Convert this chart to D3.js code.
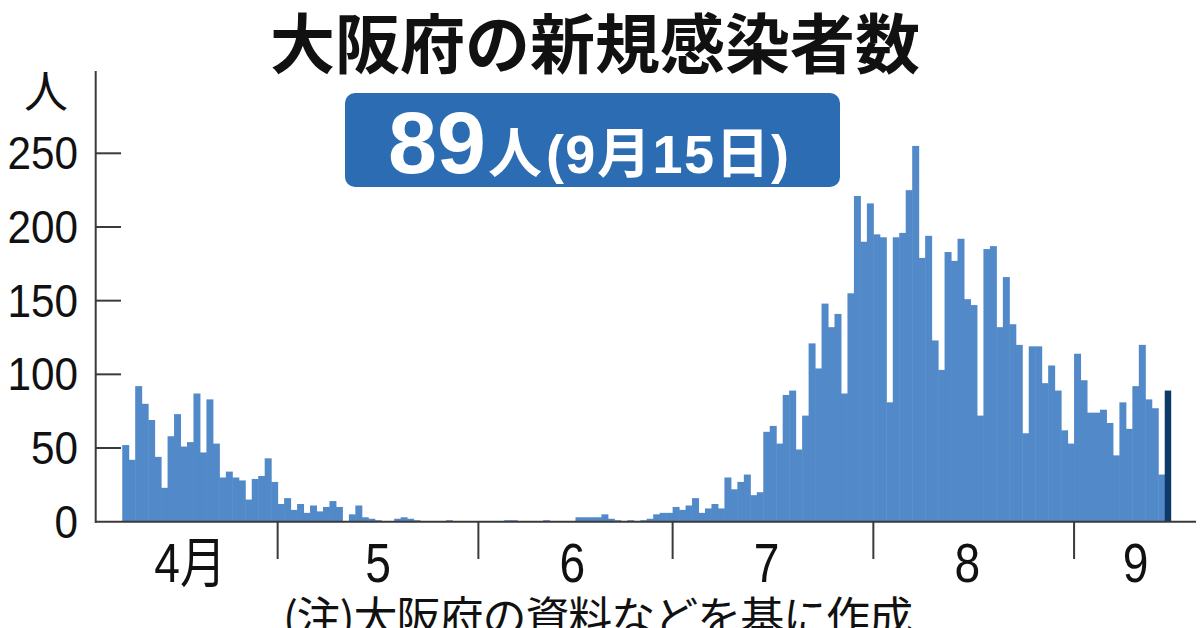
<!DOCTYPE html>
<html><head><meta charset="utf-8">
<script src="https://cdn.jsdelivr.net/npm/d3@7"></script>
<style>html,body{margin:0;padding:0;background:#fff;overflow:hidden}</style>
</head><body><svg id="chart" width="1200" height="628"></svg>
<script>
// ---- data ----
const startDate = "2020-04-07";
const aprilValues = [52,42,92,80,69,44,23,58,73,51,54,87,47,83,53,30,34,30,28,15,29,31,43,27];
const mayValues = [12,16,8,12,6,11,7,10,14,10,0,5,11,3,2,1,0,0,2,3,2,1,0,0,0,0,1,0,0,0,0];
const juneValues = [0,0,0,0,1,1,0,0,0,0,1,0,0,0,0,3,3,3,3,5,2,1,0,1,0,1,2,5,6,6];
const julyValues = [10,8,11,16,6,9,12,9,30,22,27,32,18,20,61,65,53,86,89,49,72,121,104,148,132,141,87,155,221,190,216];
const augustValues = [195,193,81,193,196,225,255,179,194,123,103,183,177,192,151,147,72,185,187,132,166,134,120,60,119,119,94,106,89,62,53];
const septemberValues = [114,96,74,74,76,67,45,81,63,92,120,83,77,32,89];
const yTickValues = [0,50,100,150,200,250];
const monthTickDates = ["2020-05-01","2020-06-01","2020-07-01","2020-08-01","2020-09-01"];
const monthLabels = ["4月","5","6","7","8","9"];
const monthLabelDates = ["2020-04-17","2020-05-16","2020-06-15","2020-07-15","2020-08-15","2020-09-10"];
const titleText = "大阪府の新規感染者数";
const unitText = "人";
const highlightDateText = "(9月15日)";
const noteText = "(注)大阪府の資料などを基に作成";

// ---- build ----
const values = [].concat(aprilValues, mayValues, juneValues, julyValues, augustValues, septemberValues);
const parse = d3.utcParse("%Y-%m-%d");
const start = parse(startDate);
const data = values.map((v, i) => ({ date: d3.utcDay.offset(start, i), value: v }));

const svg = d3.select("#chart");
const x = d3.scaleUtc().domain([parse("2020-04-01"), parse("2020-09-16")]).range([83.4, 1171.2]);
const y = d3.scaleLinear().domain([0, 250]).range([521.7, 153.3]);
const numFont = "'Liberation Sans', Arial, 'Noto Sans CJK JP', sans-serif";
const jpFont = "'Noto Sans CJK JP', 'Noto Sans CJK SC', sans-serif";

// bars
svg.append("g").selectAll("rect").data(data).join("rect")
  .attr("x", d => x(d.date))
  .attr("width", d => x(d3.utcDay.offset(d.date, 1)) - x(d.date) + (d === data[data.length-1] ? 0 : 0.5))
  .attr("y", d => y(d.value))
  .attr("height", d => y(0) - y(d.value))
  .attr("fill", (d, i) => i === data.length - 1 ? "#0e3a6a" : "#5289c8");

// y axis
const axisColor = "#3a3a3a";
svg.append("line").attr("x1", 95.7).attr("x2", 95.7).attr("y1", 71).attr("y2", y(0) + 1)
  .attr("stroke", axisColor).attr("stroke-width", 2);
const yg = svg.append("g");
yg.selectAll("line.tk").data(yTickValues.filter(v => v > 0)).join("line")
  .attr("x1", 95.7).attr("x2", 121).attr("y1", d => y(d)).attr("y2", d => y(d))
  .attr("stroke", axisColor).attr("stroke-width", 2);
yg.selectAll("text").data(yTickValues).join("text")
  .attr("transform", d => `translate(78,${y(d) + 16}) scale(0.92,1)`)
  .attr("text-anchor", "end")
  .attr("font-family", numFont).attr("font-size", 46).attr("fill", "#111")
  .text(d => d);
svg.append("text").attr("x", 46).attr("y", 108).attr("text-anchor", "middle")
  .attr("font-family", jpFont).attr("font-size", 44).attr("fill", "#111").text(unitText);

// x axis
svg.append("line").attr("x1", 95).attr("x2", 1196).attr("y1", y(0)).attr("y2", y(0))
  .attr("stroke", axisColor).attr("stroke-width", 2);
svg.append("g").selectAll("line").data(monthTickDates.map(parse)).join("line")
  .attr("x1", d => x(d)).attr("x2", d => x(d)).attr("y1", y(0)).attr("y2", 559)
  .attr("stroke", axisColor).attr("stroke-width", 2);
svg.append("g").selectAll("text").data(monthLabels).join("text")
  .attr("transform", (d, i) => {
    const dt = parse(monthLabelDates[i]);
    const cx = (x(dt) + x(d3.utcDay.offset(dt, 1))) / 2;
    return `translate(${cx},582) scale(0.84,1)`;
  })
  .attr("text-anchor", "middle")
  .attr("font-family", numFont).attr("font-size", 55).attr("fill", "#111")
  .text(d => d);

// title
svg.append("text").attr("x", 595).attr("y", 68).attr("text-anchor", "middle")
  .attr("font-family", jpFont).attr("font-weight", 700).attr("font-size", 65)
  .attr("fill", "#111").text(titleText);

// highlight box
svg.append("rect").attr("x", 345).attr("y", 93).attr("width", 495).attr("height", 94)
  .attr("rx", 10).attr("fill", "#2b6cb2");
const ht = svg.append("text").attr("x", 388).attr("y", 173).attr("fill", "#fff").attr("font-weight", 700);
ht.append("tspan").attr("font-family", numFont).attr("font-size", 88).text(values[values.length - 1]);
ht.append("tspan").attr("font-family", jpFont).attr("font-size", 54).attr("dx", 2).text(unitText);
ht.append("tspan").attr("font-family", numFont + "," + jpFont).attr("font-size", 54).attr("dx", 4)
  .attr("letter-spacing", 1.5).text(highlightDateText);

// note
svg.append("text").attr("x", 283).attr("y", 634)
  .attr("font-family", jpFont).attr("font-size", 44).attr("fill", "#111")
  .attr("textLength", 630).attr("lengthAdjust", "spacing")
  .text(noteText);
</script></body></html>
